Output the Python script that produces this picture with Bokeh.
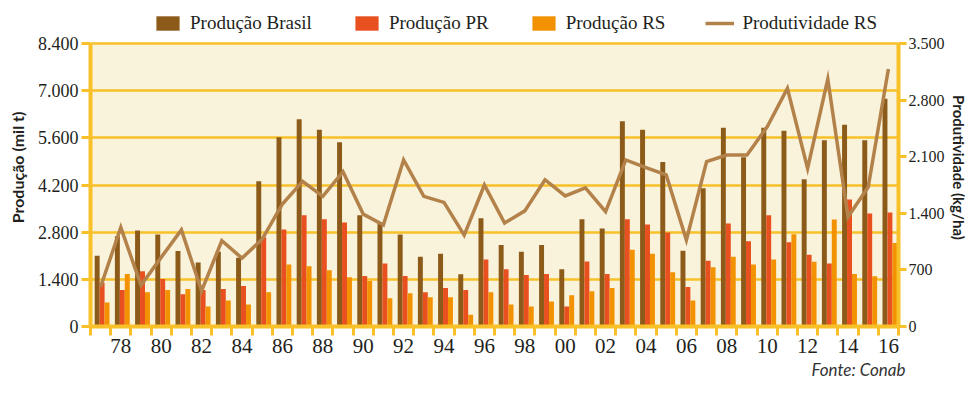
from bokeh.plotting import figure
from bokeh.models import (Range1d, LinearAxis, FixedTicker, Legend, LegendItem,
                          BoxAnnotation, ColumnDataSource, Title)
from bokeh.transform import dodge
from bokeh.embed import file_html
from bokeh.resources import INLINE

# ---------------- data ----------------
years = list(range(1977, 2017))
producao_brasil = [2100, 2680, 2850, 2730, 2240, 1900, 2220, 2040, 4310, 5620,
                   6150, 5840, 5470, 3300, 3090, 2730, 2070, 2160, 1550, 3210,
                   2420, 2220, 2420, 1700, 3180, 2910, 6090, 5840, 4880, 2245,
                   4100, 5900, 5025, 5900, 5810, 4370, 5530, 5990, 5530, 6760]
producao_pr = [1300, 1080, 1640, 1410, 960, 1080, 1110, 1200, 2650, 2880,
               3300, 3180, 3090, 1500, 1870, 1500, 1020, 1140, 1080, 1985,
               1700, 1525, 1555, 595, 1930, 1555, 3180, 3030, 2790, 1170,
               1955, 3060, 2530, 3300, 2500, 2130, 1870, 3770, 3355, 3385]
producao_rs = [715, 1555, 1015, 1080, 1110, 595, 775, 655, 1015, 1840,
               1785, 1670, 1465, 1350, 835, 985, 865, 865, 350, 1015,
               655, 595, 745, 925, 1045, 1140, 2275, 2160, 1610, 775,
               1755, 2070, 1840, 1985, 2735, 1925, 3175, 1555, 1495, 2475]
produtividade_rs = [490, 1225, 510, 855, 1195, 440, 1060, 845, 1080, 1515,
                    1795, 1610, 1915, 1390, 1255, 2060, 1610, 1535, 1130, 1750,
                    1280, 1430, 1815, 1615, 1715, 1420, 2060, 1965, 1875, 1070,
                    2040, 2120, 2120, 2470, 2945, 1955, 3060, 1355, 1725, 3185]

left_ticks = [0, 1400, 2800, 4200, 5600, 7000, 8400]
left_tick_labels = ["0", "1.400", "2.800", "4.200", "5.600", "7.000", "8.400"]
right_ticks = [0, 700, 1400, 2100, 2800, 3500]
right_tick_labels = ["0", "700", "1.400", "2.100", "2.800", "3.500"]
x_ticks = list(range(1978, 2017, 2))
x_tick_labels = ["78", "80", "82", "84", "86", "88", "90", "92", "94", "96", "98",
                 "00", "02", "04", "06", "08", "10", "12", "14", "16"]
series_names = ["Produção Brasil", "Produção PR", "Produção RS", "Produtividade RS"]
source_note = "Fonte: Conab"

# ---------------- style ----------------
YELLOW = "#F8C12A"
CREAM = "#FAF3DC"
BROWN = "#8C5A19"
RED = "#E8501F"
ORANGE = "#F39200"
TAN = "#B3824B"
TXT = "#231F20"
SERIF = "Liberation Serif"
SANS = "Lato"

# frame reaches above the chart area to host the legend (8400 sits 35px below top)
HEADROOM = 318 / 283.0
y_max = left_ticks[-1]
y2_max = right_ticks[-1]

src = ColumnDataSource(dict(year=years, brasil=producao_brasil, pr=producao_pr,
                            rs=producao_rs, prod=produtividade_rs))

p = figure(width=970, height=394, output_backend="svg", toolbar_location=None,
           x_range=Range1d(years[0] - 0.5, years[-1] + 0.5),
           y_range=Range1d(0, y_max * HEADROOM),
           min_border_left=90, min_border_right=71, min_border_top=8,
           min_border_bottom=68, background_fill_color="white",
           border_fill_color="white", outline_line_color=None)
p.extra_y_ranges = {"prod": Range1d(0, y2_max * HEADROOM)}

# cream chart area (0 .. 8400)
p.add_layout(BoxAnnotation(bottom=0, top=y_max, fill_color=CREAM, fill_alpha=1,
                           line_color=None, level="image"))

p.xgrid.visible = False
p.ygrid.ticker = FixedTicker(ticks=left_ticks)
p.ygrid.grid_line_color = YELLOW
p.ygrid.grid_line_width = 2.5

# bars
w = 0.245
rb = p.vbar(x=dodge("year", -0.17), top="brasil", width=w, source=src,
            fill_color=BROWN, line_color=None)
rp = p.vbar(x=dodge("year", 0.075), top="pr", width=w, source=src,
            fill_color=RED, line_color=None)
rr = p.vbar(x=dodge("year", 0.32), top="rs", width=w, source=src,
            fill_color=ORANGE, line_color=None)
rl = p.line("year", "prod", source=src, y_range_name="prod",
            line_color=TAN, line_width=3.5, line_join="miter")

# left axis
ya = p.yaxis[0]
ya.ticker = FixedTicker(ticks=left_ticks)
ya.bounds = (0, y_max)
ya.major_label_overrides = {t: l for t, l in zip(left_ticks, left_tick_labels)}
ya.axis_label = "Produção (mil t)"

# right axis
ra = LinearAxis(y_range_name="prod", ticker=FixedTicker(ticks=right_ticks),
                bounds=(0, y2_max))
ra.major_label_overrides = {t: l for t, l in zip(right_ticks, right_tick_labels)}
ra.axis_label = "Produtividade (kg/ha)"
p.add_layout(ra, "right")

for ax in (ya, ra):
    ax.axis_line_color = YELLOW
    ax.axis_line_width = 4
    ax.major_tick_line_color = YELLOW
    ax.major_tick_line_width = 3
    ax.major_tick_out = 9
    ax.major_tick_in = 0
    ax.minor_tick_line_color = None
    ax.major_label_text_font = SERIF
    ax.major_label_text_font_size = "18px"
    ax.major_label_text_color = TXT
    ax.major_label_standoff = 3
    ax.axis_label_text_font = SANS
    ax.axis_label_text_font_style = "bold"
    ax.axis_label_text_font_size = "16px"
    ax.axis_label_text_color = TXT
    ax.axis_label_standoff = 8
ra.major_tick_out = 8
ra.major_label_standoff = 2
ra.major_label_text_font_size = "16px"
ra.axis_label_text_font_size = "15px"
ra.axis_label_standoff = 2

# bottom axis
xa = p.xaxis[0]
xa.ticker = FixedTicker(ticks=x_ticks, minor_ticks=[years[0] - 0.5 + k for k in range(len(years) + 1)])
xa.major_label_overrides = {t: l for t, l in zip(x_ticks, x_tick_labels)}
xa.axis_line_color = YELLOW
xa.axis_line_width = 4
xa.major_tick_line_color = None
xa.major_tick_out = 0
xa.major_tick_in = 0
xa.minor_tick_line_color = YELLOW
xa.minor_tick_line_width = 3
xa.minor_tick_out = 9
xa.minor_tick_in = 0
xa.major_label_text_font = SERIF
xa.major_label_text_font_size = "21px"
xa.major_label_text_color = TXT
xa.major_label_standoff = 3

# source note, right aligned below the axis
p.add_layout(Title(text=source_note, align="right", offset=-7, standoff=2,
                   text_font=SANS, text_font_style="italic",
                   text_font_size="17px", text_color="#333333"), "below")

# legend inside the (extended) frame, above the chart area
legend = Legend(items=[LegendItem(label=series_names[0], renderers=[rb]),
                       LegendItem(label=series_names[1], renderers=[rp]),
                       LegendItem(label=series_names[2], renderers=[rr]),
                       LegendItem(label=series_names[3], renderers=[rl])],
                orientation="horizontal", location=(63, 292),
                background_fill_alpha=0, border_line_color=None,
                glyph_width=29, glyph_height=18, label_height=18,
                label_standoff=8, spacing=40, padding=0, margin=0,
                label_text_font=SERIF, label_text_font_size="19px",
                label_text_color=TXT)
p.add_layout(legend)

open("out.html", "w").write(file_html(p, INLINE))
